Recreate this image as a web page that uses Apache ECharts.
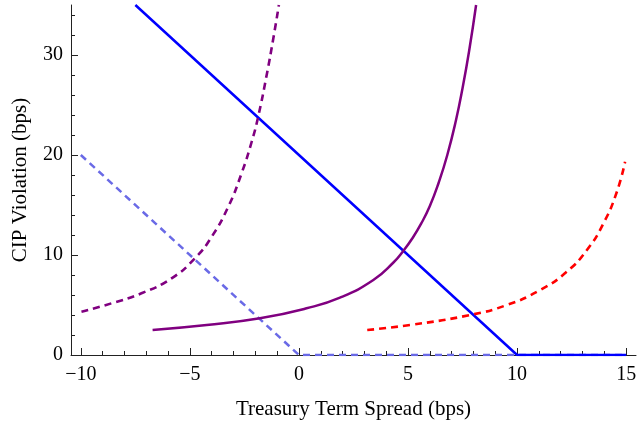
<!DOCTYPE html>
<html>
<head>
<meta charset="utf-8">
<script src="https://cdn.jsdelivr.net/npm/echarts@6/dist/echarts.min.js"></script>
<style>html,body{margin:0;padding:0;background:#fff}#c{width:638px;height:421px}</style>
</head>
<body>
<div id="c"></div>
<script>
// Data
var xMajorTicks = [-10, -5, 0, 5, 10, 15];
var xMinorTicks = [-10,-9,-8,-7,-6,-5,-4,-3,-2,-1,0,1,2,3,4,5,6,7,8,9,10,11,12,13,14,15];
var yMajorTicks = [0, 10, 20, 30];
var yMinorTicks = [2,4,6,8,12,14,16,18,22,24,26,28,32,34];

var blueSolid = [[-7.5, 35], [10, 0], [15, 0]];
var blueDashed = [[-10, 20], [0, 0], [15, 0]];
var purpleSolid = [[-6.71, 2.5], [-4.23, 3.0], [-1.79, 3.67], [0.35, 4.67], [1.88, 5.74], [3.41, 7.5],
  [4.33, 9.25], [4.79, 10.43], [5.2, 11.67], [5.6, 13.13], [6.0, 14.9], [6.4, 17.2], [6.8, 20.0],
  [7.2, 23.5], [7.5, 26.7], [7.8, 30.4], [8.12, 35]];
var purpleDashed = [[-9.97, 4.33], [-8.59, 5.17], [-7.22, 6.17], [-5.84, 7.67], [-4.77, 9.67], [-4.0, 11.83],
  [-3.24, 14.83], [-2.63, 18.17], [-2.17, 21.3], [-1.87, 23.83], [-1.48, 28.0], [-1.18, 31.6], [-0.92, 35]];
var redDashed = [[3.13, 2.5], [5.09, 3.0], [7.84, 4.0], [9.53, 5.0], [11.06, 6.5], [12.28, 8.33],
  [13.2, 10.5], [13.96, 13.17], [14.57, 16.3], [14.95, 19.33]];

var FONT = 'Liberation Serif';
var chart = echarts.init(document.getElementById('c'));
function minus(v){ return String(v).replace('-', '\u2212'); }
var xMin = -10.45, xMax = 15.45, yMin = 0, yMax = 35;
function line(data, color, type, width){
  return {type:'line', data:data, xAxisIndex:0, yAxisIndex:0, showSymbol:false, symbol:'none',
    smooth: data.length > 3 ? 0.5 : false, clip:true,
    lineStyle:{color:color, width:width, type:type}, animation:false};
}
chart.setOption({
  animation:false,
  grid:{left:71, right:2, top:5, bottom:66, containLabel:false, outerBoundsMode:'none'},
  xAxis:[
    {type:'value', min:xMin, max:xMax, position:'bottom',
     axisLine:{show:true, onZero:false, lineStyle:{color:'#222', width:1}},
     axisTick:{show:true, inside:true, length:7, customValues:xMajorTicks, lineStyle:{color:'#222'}},
     axisLabel:{show:true, customValues:xMajorTicks, formatter:minus, fontFamily:FONT, fontSize:20, color:'#000', margin:10},
     splitLine:{show:false},
     name:'Treasury Term Spread (bps)', nameLocation:'middle', nameGap:44,
     nameTextStyle:{fontFamily:FONT, fontSize:21, color:'#000'}},
    {type:'value', min:xMin, max:xMax, position:'bottom',
     axisLine:{show:false, onZero:false},
     axisTick:{show:true, inside:true, length:4, customValues:xMinorTicks, lineStyle:{color:'#222'}},
     axisLabel:{show:false}, splitLine:{show:false}}
  ],
  yAxis:[
    {type:'value', min:yMin, max:yMax, position:'left',
     axisLine:{show:true, onZero:false, lineStyle:{color:'#222', width:1}},
     axisTick:{show:true, inside:true, length:7, customValues:yMajorTicks, lineStyle:{color:'#222'}},
     axisLabel:{show:true, customValues:yMajorTicks, fontFamily:FONT, fontSize:20, color:'#000', margin:8},
     splitLine:{show:false},
     name:'CIP Violation (bps)', nameLocation:'middle', nameGap:40, nameRotate:90,
     nameTextStyle:{fontFamily:FONT, fontSize:21, color:'#000'}},
    {type:'value', min:yMin, max:yMax, position:'left',
     axisLine:{show:false, onZero:false},
     axisTick:{show:true, inside:true, length:4, customValues:yMinorTicks, lineStyle:{color:'#222'}},
     axisLabel:{show:false}, splitLine:{show:false}}
  ],
  series:[
    line(blueDashed, '#6a6ae6', [7,5], 2.5),
    line(blueSolid, '#0000ff', 'solid', 2.5),
    line(purpleSolid, '#800080', 'solid', 2.5),
    line(purpleDashed, '#800080', [7,5], 2.6),
    line(redDashed, '#ff0000', [7,5], 2.6)
  ]
});
</script>
</body>
</html>
